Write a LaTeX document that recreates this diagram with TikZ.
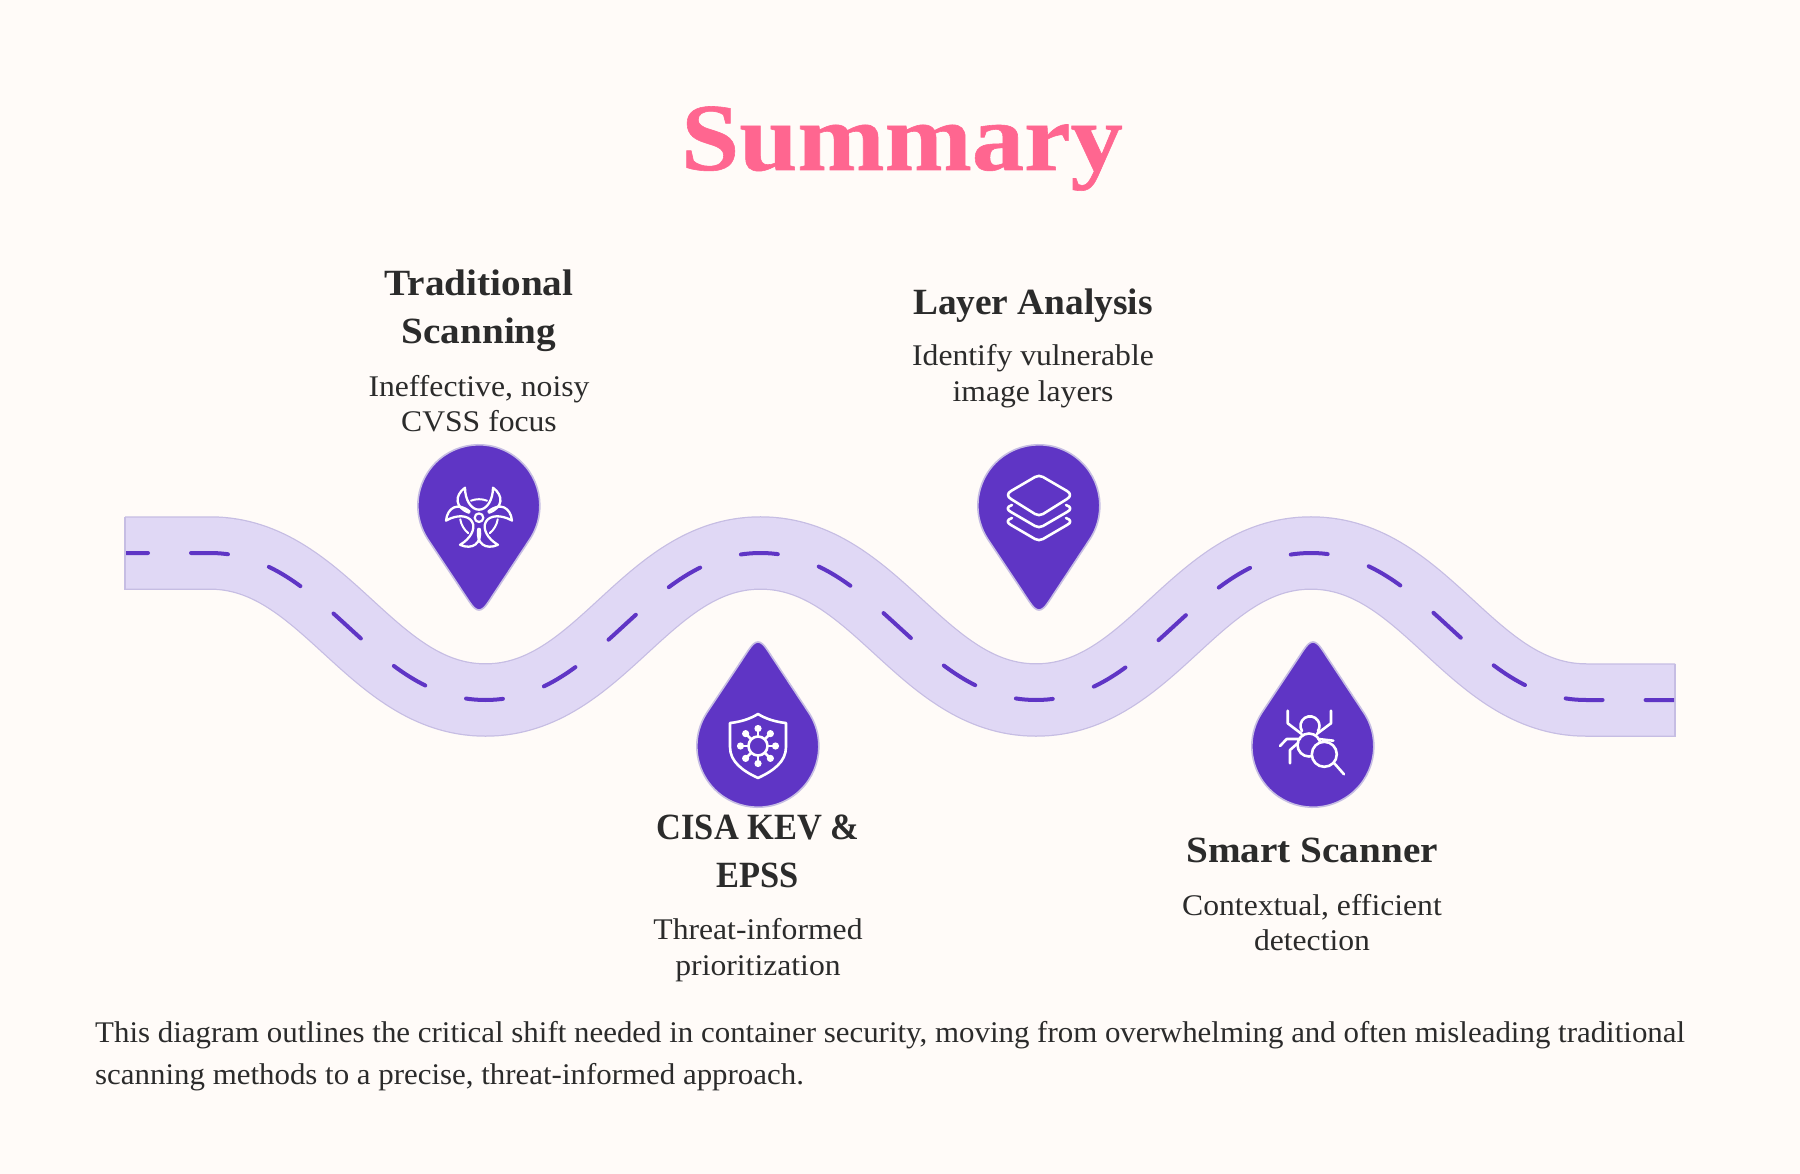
\documentclass[tikz,border=0pt]{standalone}
\usepackage{fontspec}
\setmainfont{Liberation Serif}
\newfontface\titlefont{Liberation Serif Bold}[FakeStretch=1.09,FakeBold=0.6]
\newfontface\headfont{Liberation Serif Bold}[FakeStretch=1.06]
\newfontface\headmid{Liberation Serif Bold}[FakeStretch=1.01]
\newfontface\headnarrow{Liberation Serif Bold}[FakeStretch=0.93]
\newfontface\bodyfont{Liberation Serif}[FakeStretch=1.055]
\newfontface\footfont{Liberation Serif}[FakeStretch=1.03]
\definecolor{bgc}{HTML}{FFFBF8}
\definecolor{roadc}{HTML}{E0D8F5}
\definecolor{roade}{HTML}{C6BDE3}
\definecolor{pinc}{HTML}{5F35C5}
\definecolor{titlec}{HTML}{FF6690}
\definecolor{inkc}{HTML}{2B2B2B}
\tikzset{
 titletext/.style={text=titlec,anchor=base,inner sep=0pt,font=\titlefont\fontsize{96}{96}\selectfont},
 headtext/.style={text=inkc,anchor=base,inner sep=0pt,font=\headfont\fontsize{37}{37}\selectfont},
 headmidtext/.style={headtext,font=\headmid\fontsize{37}{37}\selectfont},
 headnarrowtext/.style={headtext,font=\headnarrow\fontsize{37}{37}\selectfont},
 desctext/.style={text=inkc,anchor=base,inner sep=0pt,font=\bodyfont\fontsize{30}{30}\selectfont},
 foottext/.style={text=inkc,anchor=base west,inner sep=0pt,font=\footfont\fontsize{30}{30}\selectfont},
 pinshape/.style={fill=pinc,draw=roade,line width=1.6pt},
 iconline/.style={draw=white,line width=2.6pt,line cap=round,line join=round},
 roadedge/.style={draw=roade,line width=73.5pt,line cap=butt},
 roadfill/.style={draw=roadc,line width=71pt,line cap=butt},
 roadend/.style={draw=roade,line width=1.5pt},
 roaddash/.style={draw=pinc,line width=4pt,line cap=round,dash pattern=on 37pt off 43pt,dash phase=14pt}
}
\newcommand{\roadpath}{(125,553) -- (210,553) .. controls (325,553) and (370.5,700) .. (485.5,700) .. controls (600.5,700) and (645.5,553) .. (760.5,553) .. controls (875.5,553) and (921,700) .. (1036,700) .. controls (1151,700) and (1196,553) .. (1311,553) .. controls (1426,553) and (1471,700) .. (1586,700) -- (1675,700)}
\newcommand{\pinpath}{(9.4,96) -- (51,33) arc[start angle=33,end angle=-213,radius=61] -- (-9.4,96) .. controls (-2.3,106.7) and (2.3,106.7) .. (9.4,96) -- cycle}
\begin{document}
\begin{tikzpicture}[x=1pt,y=1pt,yscale=-1]
\path[use as bounding box,fill=bgc] (0,0) rectangle (1800,1174);
% road
\draw[roadedge] \roadpath;
\draw[roadfill] \roadpath;
\draw[roadend] (125,516.5) -- (125,589.5);
\draw[roadend] (1675,663.5) -- (1675,736.5);
\begin{scope}
\clip (126,400) rectangle (1674,800);
\draw[roaddash] \roadpath;
\end{scope}
% pins
\begin{scope}[shift={(479,506)}]
 \draw[pinshape] \pinpath;
 \begin{scope}[shift={(0,11.7)}]
  \draw[iconline,line width=2.2pt] (0,0) circle[radius=4.3];
  \foreach \r in {0,120,240}{
   \begin{scope}[rotate=\r]
    \draw[iconline,line width=2.3pt] (-10,-5) .. controls (-24,-10) and (-25,-22) .. (-14,-30) .. controls (-14,-18) and (-8,-8) .. (0,-8) .. controls (8,-8) and (14,-18) .. (14,-30) .. controls (25,-22) and (24,-10) .. (10,-5);
    \draw[iconline,line width=2pt] (-8,-17) .. controls (-3,-19) and (3,-19) .. (8,-17);
   \end{scope}
  }
 \end{scope}
\end{scope}
\begin{scope}[shift={(1039,506)}]
 \draw[pinshape] \pinpath;
 \begin{scope}[shift={(0,-10)}]
  \draw[iconline] (-4,-19) -- (-28,-5) .. controls (-32,-2.5) and (-32,0.5) .. (-28,3) -- (-4,18) .. controls (-1.5,19.5) and (1.5,19.5) .. (4,18) -- (28,3) .. controls (32,0.5) and (32,-2.5) .. (28,-5) -- (4,-19) .. controls (1.5,-20.5) and (-1.5,-20.5) .. (-4,-19) -- cycle;
  \foreach \d in {12,25}{
   \draw[iconline] (-27,{\d-3}) .. controls (-33,{\d-1}) and (-32,{\d+2}) .. (-28,{\d+4}) -- (-4,{\d+18}) .. controls (-1.5,{\d+19.5}) and (1.5,{\d+19.5}) .. (4,{\d+18}) -- (28,{\d+4}) .. controls (32,{\d+2}) and (33,{\d-1}) .. (27,{\d-3});
  }
 \end{scope}
\end{scope}
\begin{scope}[shift={(758,746)}]
 \begin{scope}[yscale=-1]\draw[pinshape] \pinpath;\end{scope}
 \draw[iconline] (0,-32) .. controls (-8,-27) and (-18,-24) .. (-28,-23) -- (-28,1) .. controls (-28,16) and (-15,25) .. (0,32) .. controls (15,25) and (28,16) .. (28,1) -- (28,-23) .. controls (18,-24) and (8,-27) .. (0,-32) -- cycle;
 \draw[iconline] (0,0) circle[radius=9.5];
 \foreach \a in {0,45,...,315}{
  \draw[iconline] (\a:9.5) -- (\a:17);
  \fill[white] (\a:17.5) circle[radius=3.6];
 }
\end{scope}
\begin{scope}[shift={(1313,746)}]
 \begin{scope}[yscale=-1]\draw[pinshape] \pinpath;\end{scope}
 \begin{scope}[shift={(-78,-116)}]
  \draw[iconline] (67,101) arc[start angle=147,end angle=393,radius=9.5];
  \draw[iconline] (74,115) circle[radius=11.5];
  \draw[iconline] (52.7,80.7) -- (52.7,93.3) -- (66.7,104);
  \draw[iconline] (96,80.7) -- (96,93.3) -- (81.7,104);
  \draw[iconline] (45,116) -- (51.7,109) -- (65,109);
  \draw[iconline] (83.3,109) -- (98.3,110.7);
  \draw[iconline] (55,133.3) -- (55,120) -- (63.3,112.7);
  \draw[fill=pinc,iconline] (89.3,124.3) circle[radius=12.5];
  \draw[iconline] (99.3,133.3) -- (109,144.3);
 \end{scope}
\end{scope}
% text
\node[titletext] (title) at (902,170) {Summary};
\node[headtext] (h1a) at (479,296) {Traditional};
\node[headtext] (h1b) at (479,344) {Scanning};
\node[desctext] (d1a) at (479,396) {Ineffective, noisy};
\node[desctext] (d1b) at (479,431) {CVSS focus};
\node[headnarrowtext] (h2a) at (758,839) {CISA KEV \&};
\node[headnarrowtext] (h2b) at (758,887) {EPSS};
\node[desctext] (d2a) at (758,939) {Threat-informed};
\node[desctext] (d2b) at (758,975) {prioritization};
\node[headmidtext] (h3) at (1033,315) {Layer Analysis};
\node[desctext] (d3a) at (1033,366) {Identify vulnerable};
\node[desctext] (d3b) at (1033,401) {image layers};
\node[headtext] (h4) at (1312,862) {Smart Scanner};
\node[desctext] (d4a) at (1312,915) {Contextual, efficient};
\node[desctext] (d4b) at (1312,950) {detection};
\node[foottext] (f1) at (95,1042) {This diagram outlines the critical shift needed in container security, moving from overwhelming and often misleading traditional};
\node[foottext] (f2) at (95,1084) {scanning methods to a precise, threat-informed approach.};
\end{tikzpicture}
\end{document}
